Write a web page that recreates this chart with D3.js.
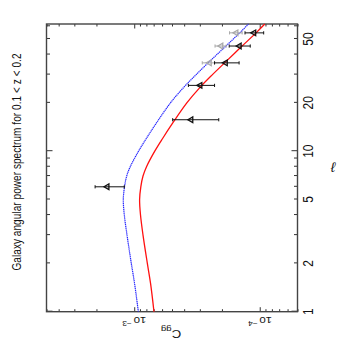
<!DOCTYPE html>
<html><head><meta charset="utf-8">
<script src="https://cdn.jsdelivr.net/npm/d3@7"></script>
<style>body{margin:0;background:#fff}svg{display:block}text{font-family:"Liberation Sans",Arial,sans-serif}</style>
</head><body><svg id="c" width="355" height="344"></svg>
<script>
// ---- data ----
const modelEll  = [1, 1.5, 2, 3, 4, 5, 6, 7, 8, 10, 12, 15, 20, 25, 30, 36, 45, 55, 62];
const modelRed  = [6.96e-4, 7.41e-4, 7.86e-4, 8.51e-4, 8.91e-4, 9.06e-4, 8.86e-4, 8.51e-4, 7.98e-4, 6.86e-4, 5.94e-4, 4.93e-4, 3.81e-4, 2.99e-4, 2.38e-4, 1.87e-4, 1.39e-4, 1.06e-4, 9.11e-5];
const modelBlue = [9.27e-4, 9.94e-4, 1.055e-3, 1.141e-3, 1.199e-3, 1.222e-3, 1.195e-3, 1.148e-3, 1.076e-3, 9.24e-4, 8.01e-4, 6.65e-4, 5.14e-4, 4.03e-4, 3.21e-4, 2.53e-4, 1.87e-4, 1.43e-4, 1.23e-4];

const obsEll = [6.0, 15.7, 25.7, 35.5, 45.2, 54.6];
const obsC   = [1.64e-3, 3.52e-4, 2.98e-4, 1.87e-4, 1.45e-4, 1.11e-4];
const obsHi  = [2.05e-3, 4.94e-4, 3.70e-4, 2.29e-4, 1.75e-4, 1.31e-4];
const obsLo  = [1.20e-3, 2.12e-4, 2.29e-4, 1.46e-4, 1.19e-4, 9.3e-5];

const grayEll = [35.5, 45.2, 54.6];
const grayC   = [2.51e-4, 2.03e-4, 1.54e-4];
const grayHi  = [2.87e-4, 2.27e-4, 1.74e-4];
const grayLo  = [2.29e-4, 1.85e-4, 1.38e-4];

const ellTickLabels = [1, 2, 5, 10, 20, 50];
const ellMajor = [1, 10];
const ellMinor = [2, 3, 4, 5, 6, 7, 8, 9, 20, 30, 40, 50, 60];
const cTickLabels = [1e-3, 1e-4];
const cExp = ["\u22123", "\u22124"];
const cMajor = [1e-4, 1e-3];
const cMinor = [5e-5, 6e-5, 7e-5, 8e-5, 9e-5, 2e-4, 3e-4, 4e-4, 5e-4, 6e-4, 7e-4, 8e-4, 9e-4, 2e-3, 3e-3, 4e-3, 5e-3];
const titleText = "Galaxy angular power spectrum for 0.1 < z < 0.2";

// ---- drawing (built in the un-rotated frame, then turned 90° ccw) ----
const W = 355, H = 344, stretch = 1.2;
const svg = d3.select("#c");
svg.append("rect").attr("width", W).attr("height", H).attr("fill", "#fff");
const g = svg.append("g").attr("transform", `translate(0,${H}) rotate(-90)`);

const x = d3.scaleLog().domain([1, 62]).range([32.3, 320]);
const y = d3.scaleLog().domain([5e-5, 5e-3]).range([297.5, 46.5]);
const [x0, x1] = x.range(), [y1, y0] = y.range();

function tickAxis(gen, tr, vals, len) {
  g.append("g").attr("transform", tr)
    .call(gen.tickValues(vals).tickSize(-len).tickFormat(""))
    .call(s => s.select(".domain").remove())
    .selectAll("line").attr("stroke", "#333").attr("stroke-width", 1);
}
tickAxis(d3.axisBottom(x), `translate(0,${y1})`, ellMinor, 3.5);
tickAxis(d3.axisBottom(x), `translate(0,${y1})`, ellMajor, 6);
tickAxis(d3.axisTop(x), `translate(0,${y0})`, ellMinor, 3.5);
tickAxis(d3.axisTop(x), `translate(0,${y0})`, ellMajor, 6);
tickAxis(d3.axisLeft(y), `translate(${x0},0)`, cMinor, 2.5);
tickAxis(d3.axisLeft(y), `translate(${x0},0)`, cMajor, 4.5);
tickAxis(d3.axisRight(y), `translate(${x1},0)`, cMinor, 2.5);
tickAxis(d3.axisRight(y), `translate(${x1},0)`, cMajor, 4.5);

g.append("rect").attr("x", x0).attr("y", y0).attr("width", x1 - x0).attr("height", y1 - y0)
  .attr("fill", "none").attr("stroke", "#444").attr("stroke-width", 1.4);

// model curves
const line = d3.line().x(d => x(d[0])).y(d => y(d[1])).curve(d3.curveCatmullRom.alpha(0.5));
g.append("path").datum(modelEll.map((l, i) => [l, modelBlue[i]]))
  .attr("d", line).attr("fill", "none").attr("stroke", "#2424ff")
  .attr("stroke-width", 1.2).attr("stroke-dasharray", "1.3,0.6");
g.append("path").datum(modelEll.map((l, i) => [l, modelRed[i]]))
  .attr("d", line).attr("fill", "none").attr("stroke", "#ff1010").attr("stroke-width", 1.3);

// data points with error bars
function points(ells, cs, his, los, col) {
  const pg = g.append("g").attr("stroke", col).attr("fill", "none").attr("stroke-width", 1);
  ells.forEach((l, i) => {
    const u = x(l);
    pg.append("line").attr("x1", u).attr("x2", u).attr("y1", y(his[i])).attr("y2", y(los[i]));
    [his[i], los[i]].forEach(v => pg.append("line").attr("x1", u - 1.6).attr("x2", u + 1.6).attr("y1", y(v)).attr("y2", y(v)));
    pg.append("path").attr("d", d3.symbol().type(d3.symbolTriangle).size(14)())
      .attr("transform", `translate(${u},${y(cs[i])})`).attr("fill", "none").attr("stroke-width", 1.3);
  });
}
points(grayEll, grayC, grayHi, grayLo, "#a8a8a8");
points(obsEll, obsC, obsHi, obsLo, "#111");

// tick labels
ellTickLabels.forEach(v => {
  g.append("text").attr("transform", `translate(${x(v)},312.5) scale(1,${stretch})`)
    .attr("text-anchor", "middle").attr("font-size", 12).attr("fill", "#111").text(v);
});
function centerText(t) { // centre the glyph box on the local origin along the reading direction
  const b = t.node().getBBox();
  t.attr("x", -(b.x + b.width / 2));
}
cTickLabels.forEach((v, i) => {
  const outer = g.append("g").attr("transform", `translate(27,${y(v)}) scale(1,${stretch}) rotate(-90)`);
  const t = outer.append("text").attr("font-size", 9.5).attr("fill", "#111");
  t.append("tspan").text("10");
  t.append("tspan").attr("font-size", 7).attr("dx", 1.5).attr("dy", "-0.55em").text(cExp[i]);
  centerText(t);
});
// axis titles
const cg = g.append("g").attr("transform", `translate(14,171) scale(1,${stretch}) rotate(-90)`);
const ct = cg.append("text").attr("font-size", 11).attr("fill", "#111");
ct.append("tspan").text("C");
ct.append("tspan").attr("font-size", 8).attr("dy", "0.35em").text("gg");
centerText(ct);

svg.append("text").attr("x", 333).attr("y", 172).attr("text-anchor", "middle")
  .attr("font-size", 14).attr("font-style", "italic").attr("fill", "#111").text("\u2113");

g.append("text").attr("transform", `translate(182,21) scale(1,${stretch})`)
  .attr("text-anchor", "middle").attr("font-size", 10).attr("fill", "#111")
  .attr("textLength", 217).attr("lengthAdjust", "spacing").text(titleText);
</script></body></html>
